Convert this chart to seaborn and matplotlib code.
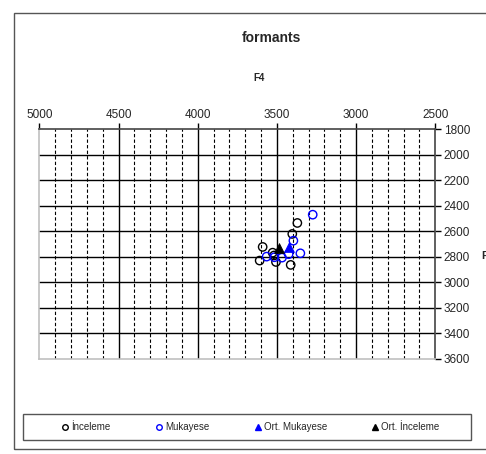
import matplotlib
matplotlib.use('Agg')
import matplotlib.pyplot as plt
import matplotlib.patches as mpatches
from matplotlib.lines import Line2D
import pandas as pd
import seaborn as sns

# values (F2 on x, F4 on y)
inceleme_x = [3371, 3403, 3590, 3527, 3609, 3506, 3413, 3518]
inceleme_y = [2535, 2621, 2723, 2768, 2830, 2841, 2864, 2790]
mukayese_x = [3274, 3396, 3352, 3426, 3468, 3516, 3565]
mukayese_y = [2470, 2674, 2773, 2780, 2807, 2804, 2799]
ort_mukayese = (3426, 2725)
ort_inceleme = (3489, 2733)

x_ticks = [5000, 4500, 4000, 3500, 3000, 2500]
y_ticks = [1800, 2000, 2200, 2400, 2600, 2800, 3000, 3200, 3400, 3600]


def main():
    sns.set_style('white')
    plt.rcParams['font.family'] = ['Liberation Sans', 'DejaVu Sans']

    fig = plt.figure(figsize=(4.86, 4.54), dpi=100)
    ax = fig.add_axes([0.0809, 0.2099, 0.8148, 0.5053])

    df_inc = pd.DataFrame({'x': inceleme_x, 'y': inceleme_y})
    df_muk = pd.DataFrame({'x': mukayese_x, 'y': mukayese_y})

    # grid: dashed every 100 Hz, solid every 500 Hz, solid every 200 on y
    for v in range(2600, 5000, 100):
        if v % 500 != 0:
            ax.axvline(v, color='black', lw=0.8, ls=(0, (3, 2)), zorder=1)
    for v in x_ticks[1:-1]:
        ax.axvline(v, color='black', lw=1.0, zorder=1)
    for v in y_ticks[1:-1]:
        ax.axhline(v, color='black', lw=1.0, zorder=1)

    sns.scatterplot(data=df_inc, x='x', y='y', ax=ax, marker='o', s=36,
                    facecolor='none', edgecolor='black', linewidth=1.0,
                    zorder=3)
    sns.scatterplot(data=df_muk, x='x', y='y', ax=ax, marker='o', s=36,
                    facecolor='none', edgecolor='#0000ff', linewidth=1.0,
                    zorder=3)
    sns.scatterplot(x=[ort_mukayese[0]], y=[ort_mukayese[1]], ax=ax,
                    marker='^', s=50, color='#0000ff', edgecolor='#0000ff',
                    zorder=4)
    sns.scatterplot(x=[ort_inceleme[0]], y=[ort_inceleme[1]], ax=ax,
                    marker='^', s=50, color='black', edgecolor='black',
                    zorder=4)

    ax.set_xlim(5000, 2500)
    ax.set_ylim(3600, 1800)
    ax.set_xticks(x_ticks)
    ax.set_yticks(y_ticks)
    ax.xaxis.tick_top()
    ax.yaxis.tick_right()
    ax.tick_params(axis='both', labelsize=8.5, direction='out', length=4,
                   width=1, color='black', pad=2)
    ax.set_xlabel('')
    ax.set_ylabel('')
    ax.spines['top'].set_color('#444444')
    ax.spines['right'].set_color('#444444')
    ax.spines['left'].set_color('#c0c0c0')
    ax.spines['bottom'].set_color('#c0c0c0')
    for s in ax.spines.values():
        s.set_linewidth(1.2)

    fig.text(271 / 486, 1 - 38 / 454, 'formants', ha='center', va='center',
             fontsize=10, fontweight='bold')
    fig.text(259 / 486, 1 - 78 / 454, 'F4', ha='center', va='center',
             fontsize=7, fontweight='bold')
    # y axis title, mostly cut off by the right edge as in the reference
    fig.text(481 / 486, 1 - 256 / 454, 'F3', ha='left', va='center',
             fontsize=8, fontweight='bold')

    handles = [
        Line2D([], [], marker='o', ls='none', markerfacecolor='none',
               markeredgecolor='black', markersize=4),
        Line2D([], [], marker='o', ls='none', markerfacecolor='none',
               markeredgecolor='#0000ff', markersize=4),
        Line2D([], [], marker='^', ls='none', color='#0000ff', markersize=5),
        Line2D([], [], marker='^', ls='none', color='black', markersize=5),
    ]
    labels = ['İnceleme', 'Mukayese', 'Ort. Mukayese', 'Ort. İnceleme']
    fig.legend(handles, labels, ncol=4, fontsize=7, frameon=False,
               handletextpad=0.1, handlelength=1, columnspacing=4.5,
               loc='center', bbox_to_anchor=(250 / 486, 1 - 427 / 454))

    # legend box
    box = mpatches.Rectangle((23 / 486, 1 - 440 / 454), 448 / 486, 26 / 454,
                             transform=fig.transFigure, fill=False,
                             edgecolor='#555555', lw=1.0)
    fig.patches.append(box)

    # outer chart frame (right side runs off the image)
    frame = mpatches.Rectangle((14 / 486, 5 / 454), 1.0, 436 / 454,
                               transform=fig.transFigure, fill=False,
                               edgecolor='#555555', lw=1.0)
    fig.patches.append(frame)

    fig.savefig('out.png', dpi=100)


if __name__ == '__main__':
    main()
